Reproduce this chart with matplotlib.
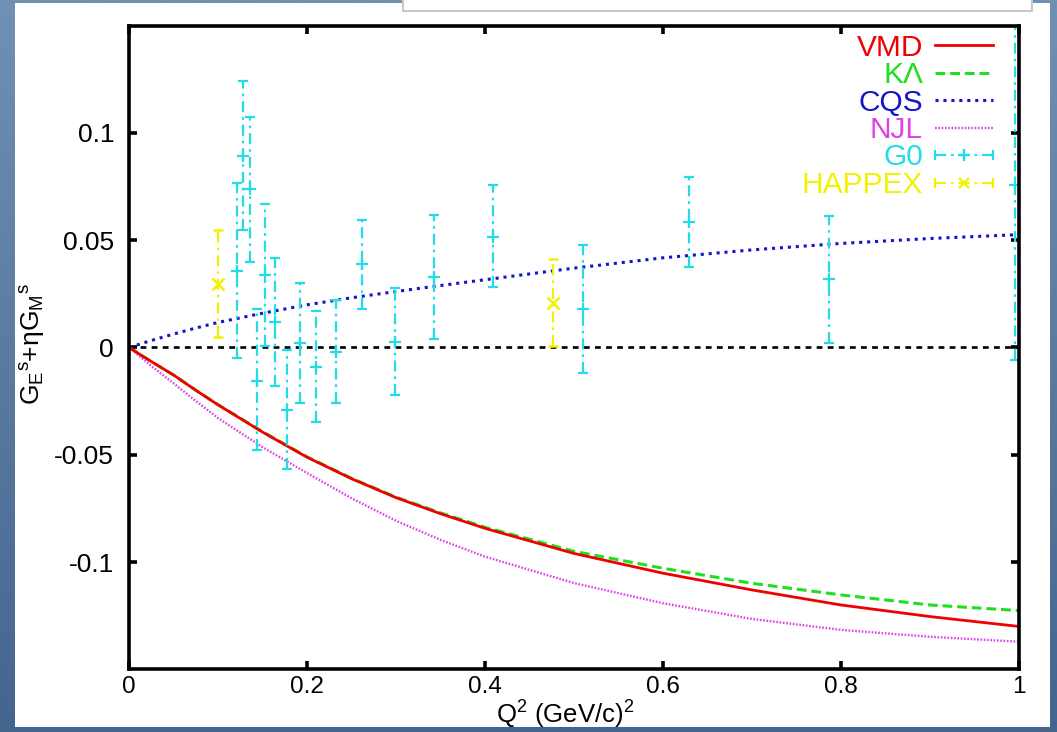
import numpy as np
import matplotlib
matplotlib.use("Agg")
import matplotlib.pyplot as plt
from matplotlib.patches import Rectangle

plt.rcParams['font.family'] = ['Liberation Sans', 'DejaVu Sans']
plt.rcParams['mathtext.fontset'] = 'custom'
plt.rcParams['mathtext.rm'] = 'Liberation Sans'
plt.rcParams['mathtext.it'] = 'Liberation Sans'
plt.rcParams['mathtext.default'] = 'regular'

# ---------------- data ----------------
q_model = [0, 0.0125, 0.025, 0.05, 0.075, 0.1, 0.15, 0.2, 0.25, 0.3, 0.35, 0.4, 0.5, 0.6, 0.7, 0.8, 0.9, 1.0]
vmd = [0, -0.0034, -0.0066, -0.0129, -0.0200, -0.0268, -0.0395, -0.0512, -0.0612, -0.0700, -0.0775, -0.0843, -0.0960, -0.1052, -0.1130, -0.1200, -0.1254, -0.1300]
klam = [0, -0.0034, -0.0066, -0.0129, -0.0200, -0.0267, -0.0393, -0.0510, -0.0610, -0.0698, -0.0771, -0.0838, -0.0950, -0.1029, -0.1099, -0.1153, -0.1200, -0.1226]
cqs = [0, 0.0017, 0.0033, 0.0063, 0.0091, 0.0117, 0.0160, 0.0199, 0.0232, 0.0261, 0.0289, 0.0316, 0.0370, 0.0418, 0.0455, 0.0485, 0.0508, 0.0526]
njl = [0, -0.0044, -0.0087, -0.0168, -0.0250, -0.0330, -0.0465, -0.0586, -0.0703, -0.0808, -0.0897, -0.0975, -0.1098, -0.1192, -0.1265, -0.1316, -0.1348, -0.1371]

g0_q = [0.1214, 0.128, 0.1356, 0.1435, 0.1525, 0.1637, 0.1768, 0.1918, 0.2094, 0.2322,
        0.2611, 0.2985, 0.3427, 0.409, 0.510, 0.629, 0.7865, 0.995]
g0_val = [0.0358, 0.0892, 0.0737, -0.0155, 0.0339, 0.0120, -0.0291, 0.0019, -0.0089, -0.0019,
          0.0388, 0.0027, 0.0327, 0.0516, 0.0178, 0.0586, 0.0318, 0.0757]
g0_hi = [0.0765, 0.1243, 0.1076, 0.0178, 0.0667, 0.0416, -0.0012, 0.0299, 0.0171, 0.0221,
         0.0594, 0.0276, 0.0617, 0.0757, 0.0478, 0.0796, 0.0613, 0.157]
g0_lo = [-0.0050, 0.0548, 0.0400, -0.0478, 0.0007, -0.0179, -0.0568, -0.0260, -0.0346, -0.0260,
         0.0178, -0.0221, 0.0038, 0.0280, -0.0117, 0.0377, 0.0020, -0.0058]

hap_q = [0.0993, 0.4764]
hap_val = [0.0294, 0.0209]
hap_hi = [0.0548, 0.0411]
hap_lo = [0.0050, 0.0007]

x_ticks = [0, 0.2, 0.4, 0.6, 0.8, 1.0]
x_ticklabels = ['0', '0.2', '0.4', '0.6', '0.8', '1']
y_ticks = [-0.1, -0.05, 0, 0.05, 0.1]
y_ticklabels = ['-0.1', '-0.05', '0', '0.05', '0.1']

labels = ['VMD', 'K\u039b', 'CQS', 'NJL', 'G0', 'HAPPEX']

# ---------------- colors / styles ----------------
C_RED = '#f00000'
C_GREEN = '#1ee01e'
C_BLUE = '#1414c8'
C_MAG = '#e040e8'
C_CYAN = '#22dde8'
C_YEL = '#f2f200'
DASHDOT = (0, (5, 2.2, 1.2, 2.2))
LS_K = (0, (3.2, 1.6))
LS_C = (0, (1, 1.6))
LS_N = (0, (0.7, 0.7))

W, H = 1057, 732
fig = plt.figure(figsize=(W / 100, H / 100), dpi=100)

# background gradient
bg = fig.add_axes([0, 0, 1, 1], zorder=-10)
top_c = np.array([0x70, 0x90, 0xb4]) / 255
bot_c = np.array([0x44, 0x65, 0x8e]) / 255
t = np.linspace(0, 1, 256)[:, None, None]
grad = np.repeat(top_c * (1 - t) + bot_c * t, 4, axis=1)
bg.imshow(grad, aspect='auto', extent=[0, 1, 0, 1], origin='upper')
bg.set_xlim(0, 1)
bg.set_ylim(0, 1)
bg.axis('off')
bg.add_patch(Rectangle((15 / W, 1 - 727 / H), (1050 - 15) / W, (727 - 3) / H,
                       facecolor='white', edgecolor='none'))
bg.add_patch(Rectangle((403 / W, 1 - 11 / H), (1032 - 403) / W, 20 / H,
                       facecolor='white', edgecolor='#c8c8c8', lw=1.5))

# main axes
x0, x1 = 129.3, 1019.3
ytop, ybot = 25.6, 669.4
ax = fig.add_axes([x0 / W, 1 - ybot / H, (x1 - x0) / W, (ybot - ytop) / H])
ax.set_facecolor('none')
ax.set_xlim(0, 1)
ax.set_ylim(-0.15, 0.15)

ax.axhline(0, color='black', lw=1.9, ls=(0, (2.2, 2.0)), zorder=2)

ax.plot(q_model, vmd, color=C_RED, lw=2.0, zorder=4)
ax.plot(q_model, klam, color=C_GREEN, lw=2.2, ls=LS_K, zorder=3)
ax.plot(q_model, cqs, color=C_BLUE, lw=2.2, ls=LS_C, zorder=3)
ax.plot(q_model, njl, color=C_MAG, lw=1.7, ls=LS_N, zorder=3)

def err(vals, lo, hi):
    v = np.array(vals)
    return [v - np.array(lo), np.array(hi) - v]

eb = ax.errorbar(g0_q, g0_val, yerr=err(g0_val, g0_lo, g0_hi), fmt='+', color=C_CYAN,
                 ms=9, mew=1.6, capsize=3.5, capthick=1.6, elinewidth=1.6, zorder=5)
eb[2][0].set_linestyle(DASHDOT)
eb2 = ax.errorbar(hap_q, hap_val, yerr=err(hap_val, hap_lo, hap_hi), fmt='x', color=C_YEL,
                  ms=8, mew=1.8, capsize=3.5, capthick=1.6, elinewidth=1.6, zorder=5)
eb2[2][0].set_linestyle(DASHDOT)

# axes styling
for s in ax.spines.values():
    s.set_linewidth(2.6)
    s.set_zorder(6)
ax.set_xticks(x_ticks)
ax.set_xticklabels(x_ticklabels)
ax.set_yticks(y_ticks)
ax.set_yticklabels(y_ticklabels)
ax.tick_params(axis='both', which='major', direction='in', length=6, width=2.6,
               top=True, right=True)
ax.tick_params(axis='x', pad=5, labelsize=17.5)
ax.tick_params(axis='y', pad=11, labelsize=19)

ax.set_xlabel(r'$Q^2$ (GeV/c)$^2$', fontsize=18.5)
ax.xaxis.set_label_coords(0.490, -0.046)
ax.set_ylabel(r'$G_{E}{}^{s}$+$\eta G_{M}{}^{s}$', fontsize=19)
ax.yaxis.set_label_coords(-0.092, 0.505)

# gnuplot-style legend (right-aligned coloured text + sample)
def axx(px):
    return (px - x0) / (x1 - x0)

def axy(py):
    return (ybot - py) / (ybot - ytop)

colors = [C_RED, C_GREEN, C_BLUE, C_MAG, C_CYAN, C_YEL]
styles = [dict(lw=2.0), dict(lw=2.2, ls=LS_K), dict(lw=2.2, ls=LS_C), dict(lw=1.7, ls=LS_N),
          dict(lw=1.6, ls=DASHDOT), dict(lw=1.6, ls=DASHDOT)]
rows = [45 + 27.5 * i for i in range(6)]
sx0, sx1 = axx(935), axx(993)
for i, (lab, c, py, st) in enumerate(zip(labels, colors, rows, styles)):
    ax.text(axx(923), axy(py + 10.5), lab, color=c, fontsize=21.5, ha='right',
            va='baseline', transform=ax.transAxes, zorder=7)
    yy = axy(py)
    ax.plot([sx0, sx1], [yy, yy], color=c, transform=ax.transAxes, zorder=7, **st)
    if i >= 4:
        mk = '+' if i == 4 else 'x'
        ax.plot([(sx0 + sx1) / 2], [yy], color=c, marker=mk, ms=8 if i == 4 else 7, mew=1.7,
                transform=ax.transAxes, zorder=7, ls='none')
        ax.plot([sx0, sx1], [yy, yy], color=c, marker='|', ms=7, mew=1.6, ls='none',
                transform=ax.transAxes, zorder=7)

fig.savefig('out.png', dpi=100)
